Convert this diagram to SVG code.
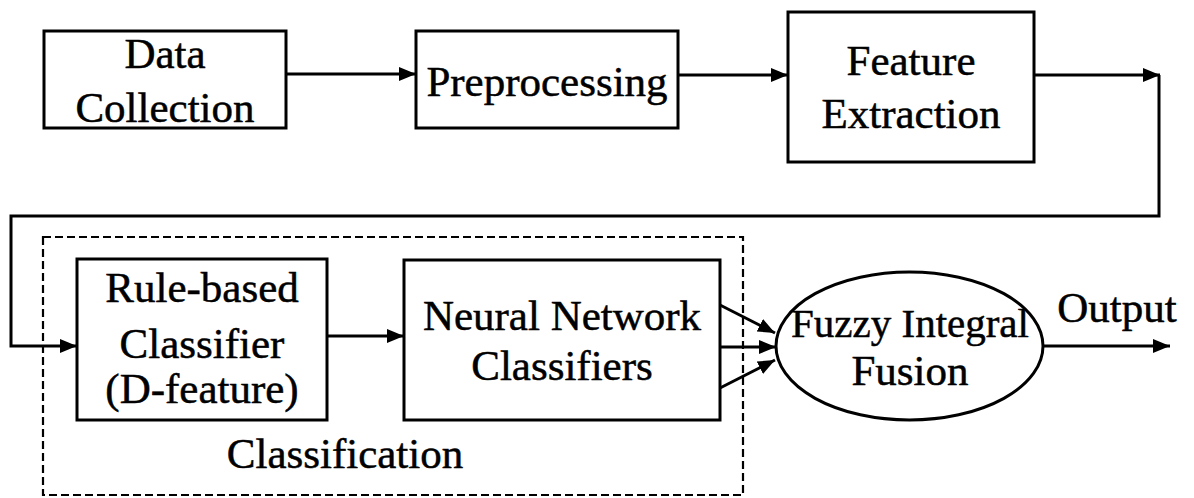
<svg xmlns="http://www.w3.org/2000/svg" width="1194" height="498" viewBox="0 0 1194 498">
<style>
.box{fill:#fff;stroke:#000;stroke-width:3}
.ln{fill:none;stroke:#000;stroke-width:3}
.dash{fill:none;stroke:#000;stroke-width:2.2;stroke-dasharray:8 4}
.t{font-family:'Liberation Serif','Times New Roman','DejaVu Serif',serif;font-size:43px;fill:#000;stroke:#000;stroke-width:0.5;text-anchor:middle}
</style>
<defs>
<marker id="ah" markerUnits="userSpaceOnUse" viewBox="0 0 18 16" markerWidth="18" markerHeight="16" refX="17" refY="8" orient="auto">
<path d="M0,1 L17,8 L0,15 z" fill="#000"/>
</marker>
</defs>
<rect width="1194" height="498" fill="#fff"/>
<g id="classification-group">
<rect class="dash" x="43" y="237" width="700" height="258"/>
<text class="t" x="345" y="468">Classification</text>
</g>
<g id="connectors">
<line class="ln" x1="286" y1="74" x2="416" y2="74" marker-end="url(#ah)"/>
<line class="ln" x1="678" y1="75" x2="788" y2="75" marker-end="url(#ah)"/>
<line class="ln" x1="1034" y1="75" x2="1160" y2="75" marker-end="url(#ah)"/>
<path class="ln" d="M1159,75 L1159,216 L11,216 L11,346 L77,346" marker-end="url(#ah)"/>
<line class="ln" x1="327" y1="336" x2="404" y2="336" marker-end="url(#ah)"/>
<line class="ln" x1="720" y1="305" x2="775" y2="333" marker-end="url(#ah)"/>
<line class="ln" x1="720" y1="347" x2="776" y2="347" marker-end="url(#ah)"/>
<line class="ln" x1="720" y1="388" x2="775" y2="360" marker-end="url(#ah)"/>
<line class="ln" x1="1043" y1="346" x2="1170" y2="346" marker-end="url(#ah)"/>
</g>
<g id="data-collection">
<rect class="box" x="44" y="31" width="242" height="97"/>
<text class="t" x="165" y="68">Data</text>
<text class="t" x="165" y="122">Collection</text>
</g>
<g id="preprocessing">
<rect class="box" x="416" y="31" width="262" height="97"/>
<text class="t" x="547" y="96">Preprocessing</text>
</g>
<g id="feature-extraction">
<rect class="box" x="788" y="12" width="246" height="150"/>
<text class="t" x="911" y="75">Feature</text>
<text class="t" x="911" y="128">Extraction</text>
</g>
<g id="rule-based">
<rect class="box" x="77" y="259" width="250" height="161"/>
<text class="t" x="202" y="302">Rule-based</text>
<text class="t" x="202" y="358">Classifier</text>
<text class="t" x="202" y="403">(D-feature)</text>
</g>
<g id="neural-network">
<rect class="box" x="404" y="260" width="316" height="160"/>
<text class="t" x="562" y="330">Neural Network</text>
<text class="t" x="562" y="380">Classifiers</text>
</g>
<g id="fuzzy-fusion">
<ellipse class="box" cx="909.5" cy="346" rx="133.5" ry="74"/>
<text class="t" x="910" y="337" style="font-size:41px">Fuzzy Integral</text>
<text class="t" x="910" y="385">Fusion</text>
</g>
<g id="output-label">
<text class="t" x="1117" y="322">Output</text>
</g>
</svg>
